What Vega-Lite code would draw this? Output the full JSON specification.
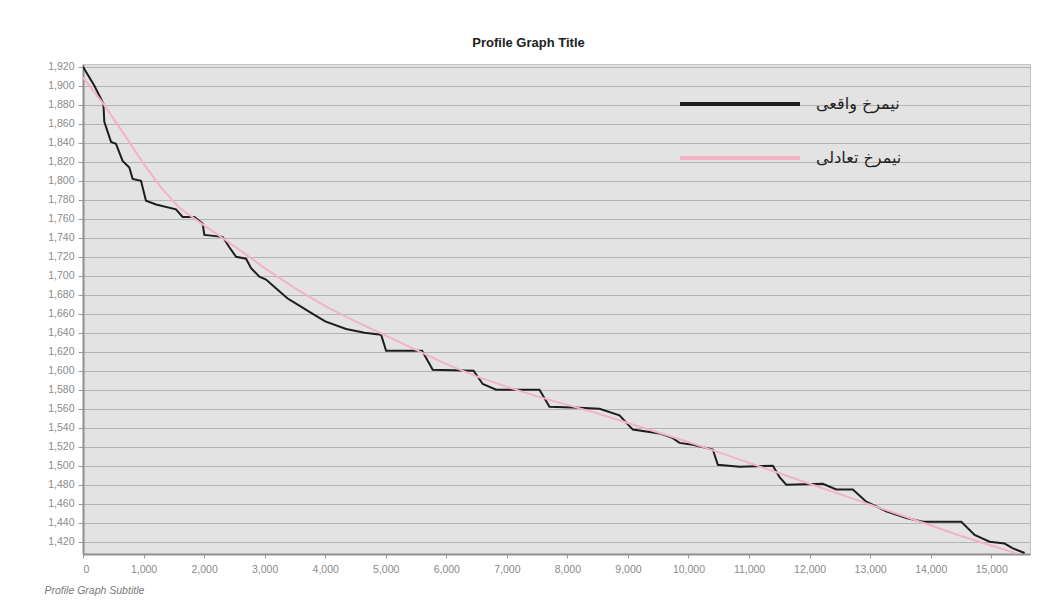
{
  "$schema": "https://vega.github.io/schema/vega-lite/v6.json",
  "autosize": {"type": "none"},
  "width": 947,
  "height": 490,
  "padding": {"left": 83, "top": 64, "right": 18, "bottom": 62},
  "background": "#ffffff",
  "title": {
    "text": "Profile Graph Title",
    "anchor": "middle",
    "frame": "group",
    "dx": -28,
    "offset": 12,
    "font": "Liberation Sans",
    "fontSize": 13,
    "fontWeight": "bold",
    "color": "#222222"
  },
  "config": {
    "view": {"fill": "#e3e3e3", "stroke": "#c4c4c4", "strokeWidth": 1},
    "axis": {
      "labelFont": "Liberation Sans",
      "labelColor": "#8a8a8a",
      "labelFontSize": 10.5,
      "domainColor": "#8f8f8f",
      "domainWidth": 2,
      "tickColor": "#9a9a9a",
      "tickSize": 5,
      "gridColor": "#b4b4b4",
      "gridWidth": 1
    }
  },
  "data": {
    "values": [
      {"d": 0, "e": 1920, "p": "نیمرخ واقعی"},
      {"d": 188, "e": 1900, "p": "نیمرخ واقعی"},
      {"d": 337, "e": 1881, "p": "نیمرخ واقعی"},
      {"d": 352, "e": 1862, "p": "نیمرخ واقعی"},
      {"d": 463, "e": 1841, "p": "نیمرخ واقعی"},
      {"d": 545, "e": 1839, "p": "نیمرخ واقعی"},
      {"d": 654, "e": 1821, "p": "نیمرخ واقعی"},
      {"d": 765, "e": 1814, "p": "نیمرخ واقعی"},
      {"d": 820, "e": 1802, "p": "نیمرخ واقعی"},
      {"d": 958, "e": 1800, "p": "نیمرخ واقعی"},
      {"d": 1040, "e": 1779, "p": "نیمرخ واقعی"},
      {"d": 1206, "e": 1775, "p": "نیمرخ واقعی"},
      {"d": 1536, "e": 1770, "p": "نیمرخ واقعی"},
      {"d": 1645, "e": 1762, "p": "نیمرخ واقعی"},
      {"d": 1839, "e": 1762, "p": "نیمرخ واقعی"},
      {"d": 1976, "e": 1755, "p": "نیمرخ واقعی"},
      {"d": 2004, "e": 1743, "p": "نیمرخ واقعی"},
      {"d": 2306, "e": 1741, "p": "نیمرخ واقعی"},
      {"d": 2417, "e": 1730, "p": "نیمرخ واقعی"},
      {"d": 2528, "e": 1720, "p": "نیمرخ واقعی"},
      {"d": 2693, "e": 1718, "p": "نیمرخ واقعی"},
      {"d": 2776, "e": 1708, "p": "نیمرخ واقعی"},
      {"d": 2913, "e": 1699, "p": "نیمرخ واقعی"},
      {"d": 3023, "e": 1696, "p": "نیمرخ واقعی"},
      {"d": 3200, "e": 1686, "p": "نیمرخ واقعی"},
      {"d": 3380, "e": 1676, "p": "نیمرخ واقعی"},
      {"d": 3560, "e": 1669, "p": "نیمرخ واقعی"},
      {"d": 3740, "e": 1662, "p": "نیمرخ واقعی"},
      {"d": 4000, "e": 1652, "p": "نیمرخ واقعی"},
      {"d": 4345, "e": 1644, "p": "نیمرخ واقعی"},
      {"d": 4650, "e": 1640, "p": "نیمرخ واقعی"},
      {"d": 4923, "e": 1638, "p": "نیمرخ واقعی"},
      {"d": 5006, "e": 1621, "p": "نیمرخ واقعی"},
      {"d": 5600, "e": 1621, "p": "نیمرخ واقعی"},
      {"d": 5776, "e": 1601, "p": "نیمرخ واقعی"},
      {"d": 6450, "e": 1600, "p": "نیمرخ واقعی"},
      {"d": 6602, "e": 1586, "p": "نیمرخ واقعی"},
      {"d": 6823, "e": 1580, "p": "نیمرخ واقعی"},
      {"d": 7539, "e": 1580, "p": "نیمرخ واقعی"},
      {"d": 7704, "e": 1562, "p": "نیمرخ واقعی"},
      {"d": 8200, "e": 1561, "p": "نیمرخ واقعی"},
      {"d": 8530, "e": 1560, "p": "نیمرخ واقعی"},
      {"d": 8860, "e": 1553, "p": "نیمرخ واقعی"},
      {"d": 9080, "e": 1538, "p": "نیمرخ واقعی"},
      {"d": 9521, "e": 1534, "p": "نیمرخ واقعی"},
      {"d": 9741, "e": 1529, "p": "نیمرخ واقعی"},
      {"d": 9851, "e": 1524, "p": "نیمرخ واقعی"},
      {"d": 10071, "e": 1522, "p": "نیمرخ واقعی"},
      {"d": 10402, "e": 1517, "p": "نیمرخ واقعی"},
      {"d": 10484, "e": 1501, "p": "نیمرخ واقعی"},
      {"d": 10843, "e": 1499, "p": "نیمرخ واقعی"},
      {"d": 11393, "e": 1500, "p": "نیمرخ واقعی"},
      {"d": 11504, "e": 1488, "p": "نیمرخ واقعی"},
      {"d": 11614, "e": 1480, "p": "نیمرخ واقعی"},
      {"d": 12219, "e": 1481, "p": "نیمرخ واقعی"},
      {"d": 12440, "e": 1475, "p": "نیمرخ واقعی"},
      {"d": 12714, "e": 1475, "p": "نیمرخ واقعی"},
      {"d": 12936, "e": 1462, "p": "نیمرخ واقعی"},
      {"d": 13266, "e": 1452, "p": "نیمرخ واقعی"},
      {"d": 13597, "e": 1445, "p": "نیمرخ واقعی"},
      {"d": 13871, "e": 1441, "p": "نیمرخ واقعی"},
      {"d": 14505, "e": 1441, "p": "نیمرخ واقعی"},
      {"d": 14725, "e": 1427, "p": "نیمرخ واقعی"},
      {"d": 14973, "e": 1420, "p": "نیمرخ واقعی"},
      {"d": 15221, "e": 1418, "p": "نیمرخ واقعی"},
      {"d": 15358, "e": 1413, "p": "نیمرخ واقعی"},
      {"d": 15551, "e": 1408, "p": "نیمرخ واقعی"},
      {"d": 0, "e": 1909, "p": "نیمرخ تعادلی"},
      {"d": 350, "e": 1880, "p": "نیمرخ تعادلی"},
      {"d": 700, "e": 1847, "p": "نیمرخ تعادلی"},
      {"d": 1000, "e": 1818, "p": "نیمرخ تعادلی"},
      {"d": 1300, "e": 1792, "p": "نیمرخ تعادلی"},
      {"d": 1600, "e": 1771, "p": "نیمرخ تعادلی"},
      {"d": 2000, "e": 1753, "p": "نیمرخ تعادلی"},
      {"d": 2300, "e": 1740, "p": "نیمرخ تعادلی"},
      {"d": 2700, "e": 1722, "p": "نیمرخ تعادلی"},
      {"d": 3000, "e": 1708, "p": "نیمرخ تعادلی"},
      {"d": 3500, "e": 1687, "p": "نیمرخ تعادلی"},
      {"d": 4000, "e": 1668, "p": "نیمرخ تعادلی"},
      {"d": 4500, "e": 1652, "p": "نیمرخ تعادلی"},
      {"d": 5000, "e": 1637, "p": "نیمرخ تعادلی"},
      {"d": 5500, "e": 1622, "p": "نیمرخ تعادلی"},
      {"d": 6000, "e": 1607, "p": "نیمرخ تعادلی"},
      {"d": 6500, "e": 1594, "p": "نیمرخ تعادلی"},
      {"d": 7000, "e": 1583, "p": "نیمرخ تعادلی"},
      {"d": 7500, "e": 1573, "p": "نیمرخ تعادلی"},
      {"d": 8000, "e": 1564, "p": "نیمرخ تعادلی"},
      {"d": 8500, "e": 1555, "p": "نیمرخ تعادلی"},
      {"d": 9000, "e": 1545, "p": "نیمرخ تعادلی"},
      {"d": 9500, "e": 1535, "p": "نیمرخ تعادلی"},
      {"d": 10000, "e": 1525, "p": "نیمرخ تعادلی"},
      {"d": 10500, "e": 1514, "p": "نیمرخ تعادلی"},
      {"d": 11000, "e": 1503, "p": "نیمرخ تعادلی"},
      {"d": 11500, "e": 1492, "p": "نیمرخ تعادلی"},
      {"d": 12000, "e": 1481, "p": "نیمرخ تعادلی"},
      {"d": 12500, "e": 1470, "p": "نیمرخ تعادلی"},
      {"d": 13000, "e": 1459, "p": "نیمرخ تعادلی"},
      {"d": 13500, "e": 1448, "p": "نیمرخ تعادلی"},
      {"d": 14000, "e": 1437, "p": "نیمرخ تعادلی"},
      {"d": 14500, "e": 1426, "p": "نیمرخ تعادلی"},
      {"d": 15000, "e": 1416, "p": "نیمرخ تعادلی"},
      {"d": 15550, "e": 1405, "p": "نیمرخ تعادلی"}
    ]
  },
  "mark": {"type": "line", "strokeWidth": 2, "clip": true},
  "encoding": {
    "x": {
      "field": "d",
      "type": "quantitative",
      "scale": {"domain": [0, 15640], "nice": false, "zero": false},
      "axis": {
        "values": [0, 1000, 2000, 3000, 4000, 5000, 6000, 7000, 8000, 9000, 10000, 11000, 12000, 13000, 14000, 15000],
        "format": ",.0f",
        "grid": false,
        "tickSize": 4,
        "labelPadding": 6,
        "title": "Profile Graph Subtitle",
        "titleFont": "Liberation Sans",
        "titleFontStyle": "italic",
        "titleFontWeight": "normal",
        "titleFontSize": 10.5,
        "titleColor": "#7a7a7a",
        "titleAnchor": "start",
        "titleAlign": "left",
        "titleBaseline": "middle",
        "titleX": -39,
        "titleY": 36
      }
    },
    "y": {
      "field": "e",
      "type": "quantitative",
      "scale": {"domain": [1407, 1923], "nice": false, "zero": false},
      "axis": {
        "values": [1420, 1440, 1460, 1480, 1500, 1520, 1540, 1560, 1580, 1600, 1620, 1640, 1660, 1680, 1700, 1720, 1740, 1760, 1780, 1800, 1820, 1840, 1860, 1880, 1900, 1920],
        "format": ",.0f",
        "grid": true,
        "labelPadding": 4,
        "title": null
      }
    },
    "color": {
      "field": "p",
      "type": "nominal",
      "sort": ["نیمرخ واقعی", "نیمرخ تعادلی"],
      "scale": {"domain": ["نیمرخ واقعی", "نیمرخ تعادلی"], "range": ["#1e1e1e", "#f2b3c4"]},
      "legend": {
        "orient": "none",
        "legendX": 595,
        "legendY": 30,
        "title": null,
        "padding": 0,
        "symbolType": "stroke",
        "symbolSize": 14400,
        "symbolStrokeWidth": 4,
        "clipHeight": 20,
        "rowPadding": 34,
        "labelFont": "DejaVu Sans",
        "labelFontSize": 16,
        "labelColor": "#222222",
        "labelOffset": 14
      }
    }
  }
}
